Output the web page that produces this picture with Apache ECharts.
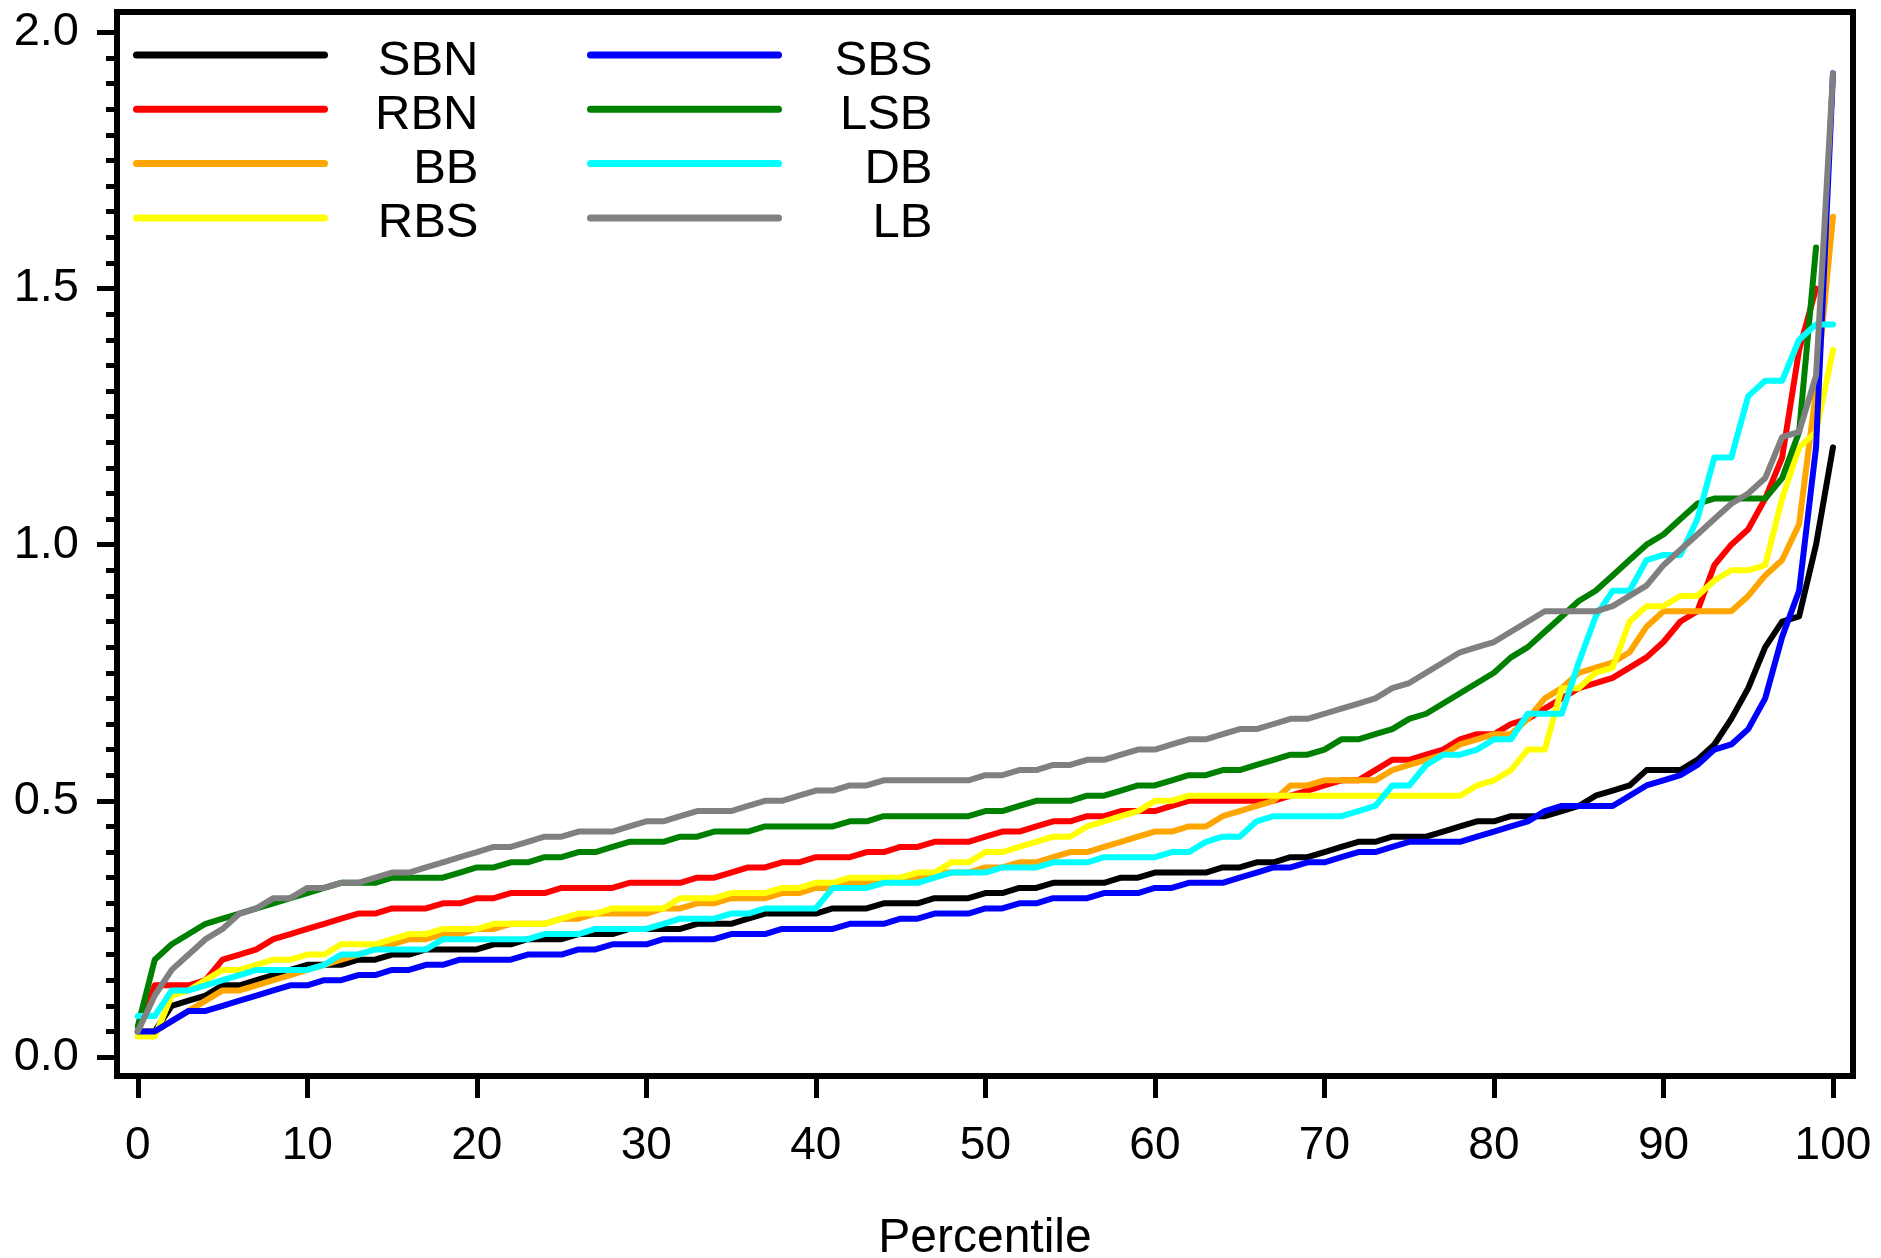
<!DOCTYPE html>
<html><head><meta charset="utf-8">
<script src="https://cdn.jsdelivr.net/npm/echarts@6/dist/echarts.min.js"></script>
<style>html,body{margin:0;padding:0;background:#fff}#c{width:1881px;height:1258px}</style>
</head><body><div id="c"></div>
<script>
const percentiles = [0,1,2,3,4,5,6,7,8,9,10,11,12,13,14,15,16,17,18,19,20,21,22,23,24,25,26,27,28,29,30,31,32,33,34,35,36,37,38,39,40,41,42,43,44,45,46,47,48,49,50,51,52,53,54,55,56,57,58,59,60,61,62,63,64,65,66,67,68,69,70,71,72,73,74,75,76,77,78,79,80,81,82,83,84,85,86,87,88,89,90,91,92,93,94,95,96,97,98,99,100];

const SBN = [0.05,0.05,0.10,0.11,0.12,0.14,0.14,0.15,0.16,0.17,0.18,0.18,0.18,0.19,0.19,0.20,0.20,0.21,0.21,0.21,0.21,0.22,0.22,0.23,0.23,0.23,0.24,0.24,
  0.24,0.25,0.25,0.25,0.25,0.26,0.26,0.26,0.27,0.28,0.28,0.28,0.28,0.29,0.29,0.29,0.30,0.30,0.30,0.31,0.31,0.31,0.32,0.32,0.33,0.33,0.34,0.34,0.34,
  0.34,0.35,0.35,0.36,0.36,0.36,0.36,0.37,0.37,0.38,0.38,0.39,0.39,0.40,0.41,0.42,0.42,0.43,0.43,0.43,0.44,0.45,0.46,0.46,0.47,0.47,0.47,
  0.48,0.49,0.51,0.52,0.53,0.56,0.56,0.56,0.58,0.61,0.66,0.72,0.80,0.85,0.86,1.00,1.19];
const RBN = [0.05,0.14,0.14,0.14,0.15,0.19,0.20,0.21,0.23,0.24,0.25,0.26,0.27,0.28,0.28,0.29,0.29,0.29,0.30,0.30,0.31,0.31,0.32,0.32,0.32,0.33,0.33,0.33,
  0.33,0.34,0.34,0.34,0.34,0.35,0.35,0.36,0.37,0.37,0.38,0.38,0.39,0.39,0.39,0.40,0.40,0.41,0.41,0.42,0.42,0.42,0.43,0.44,0.44,0.45,0.46,0.46,0.47,
  0.47,0.48,0.48,0.48,0.49,0.50,0.50,0.50,0.50,0.50,0.50,0.51,0.52,0.53,0.54,0.54,0.56,0.58,0.58,0.59,0.60,0.62,0.63,0.63,0.65,0.66,
  0.68,0.70,0.72,0.73,0.74,0.76,0.78,0.81,0.85,0.87,0.96,1.00,1.03,1.09,1.17,1.38,1.50,null];
const BB = [0.05,0.05,0.07,0.09,0.11,0.13,0.13,0.14,0.15,0.16,0.17,0.18,0.19,0.20,0.21,0.22,0.23,0.23,0.24,0.24,0.25,0.25,0.26,0.26,0.26,0.27,0.27,0.28,0.28,
  0.28,0.28,0.29,0.29,0.30,0.30,0.31,0.31,0.31,0.32,0.32,0.33,0.33,0.34,0.34,0.34,0.35,0.35,0.36,0.36,0.36,0.37,0.37,0.38,0.38,0.39,0.40,0.40,
  0.41,0.42,0.43,0.44,0.44,0.45,0.45,0.47,0.48,0.49,0.50,0.53,0.53,0.54,0.54,0.54,0.54,0.56,0.57,0.58,0.59,0.61,0.62,0.63,0.63,0.66,
  0.70,0.72,0.75,0.76,0.77,0.79,0.84,0.87,0.87,0.87,0.87,0.87,0.90,0.94,0.97,1.04,1.30,1.64];
const RBS = [0.04,0.04,0.12,0.13,0.15,0.17,0.17,0.18,0.19,0.19,0.20,0.20,0.22,0.22,0.22,0.23,0.24,0.24,0.25,0.25,0.25,0.26,0.26,0.26,0.26,0.27,0.28,0.28,0.29,
  0.29,0.29,0.29,0.31,0.31,0.31,0.32,0.32,0.32,0.33,0.33,0.34,0.34,0.35,0.35,0.35,0.35,0.36,0.36,0.38,0.38,0.40,0.40,0.41,0.42,0.43,0.43,0.45,
  0.46,0.47,0.48,0.50,0.50,0.51,0.51,0.51,0.51,0.51,0.51,0.51,0.51,0.51,0.51,0.51,0.51,0.51,0.51,0.51,0.51,0.51,
  0.53,0.54,0.56,0.60,0.60,0.72,0.72,0.75,0.76,0.85,0.88,0.88,0.90,0.90,0.93,0.95,0.95,0.96,1.09,1.19,1.22,1.38];
const SBS = [0.05,0.05,0.07,0.09,0.09,0.10,0.11,0.12,0.13,0.14,0.14,0.15,0.15,0.16,0.16,0.17,0.17,0.18,0.18,0.19,0.19,0.19,0.19,0.20,0.20,0.20,0.21,0.21,0.22,
  0.22,0.22,0.23,0.23,0.23,0.23,0.24,0.24,0.24,0.25,0.25,0.25,0.25,0.26,0.26,0.26,0.27,0.27,0.28,0.28,0.28,0.29,0.29,0.30,0.30,0.31,0.31,0.31,
  0.32,0.32,0.32,0.33,0.33,0.34,0.34,0.34,0.35,0.36,0.37,0.37,0.38,0.38,0.39,0.40,0.40,0.41,0.42,0.42,0.42,0.42,0.43,0.44,0.45,0.46,
  0.48,0.49,0.49,0.49,0.49,0.51,0.53,0.54,0.55,0.57,0.60,0.61,0.64,0.70,0.82,0.91,1.19,1.92];
const LSB = [0.06,0.19,0.22,0.24,0.26,0.27,0.28,0.29,0.30,0.31,0.32,0.33,0.34,0.34,0.34,0.35,0.35,0.35,0.35,0.36,0.37,0.37,0.38,0.38,0.39,0.39,0.40,0.40,0.41,
  0.42,0.42,0.42,0.43,0.43,0.44,0.44,0.44,0.45,0.45,0.45,0.45,0.45,0.46,0.46,0.47,0.47,0.47,0.47,0.47,0.47,0.48,0.48,0.49,0.50,0.50,0.50,0.51,
  0.51,0.52,0.53,0.53,0.54,0.55,0.55,0.56,0.56,0.57,0.58,0.59,0.59,0.60,0.62,0.62,0.63,0.64,0.66,0.67,0.69,0.71,0.73,0.75,0.78,0.80,
  0.83,0.86,0.89,0.91,0.94,0.97,1.00,1.02,1.05,1.08,1.09,1.09,1.09,1.09,1.13,1.22,1.58,null];
const DB = [0.08,0.08,0.13,0.13,0.14,0.15,0.16,0.17,0.17,0.17,0.17,0.18,0.20,0.20,0.21,0.21,0.21,0.21,0.23,0.23,0.23,0.23,0.23,0.23,0.24,0.24,0.24,0.25,0.25,
  0.25,0.25,0.26,0.27,0.27,0.27,0.28,0.28,0.29,0.29,0.29,0.29,0.33,0.33,0.33,0.34,0.34,0.34,0.35,0.36,0.36,0.36,0.37,0.37,0.37,0.38,0.38,0.38,
  0.39,0.39,0.39,0.39,0.40,0.40,0.42,0.43,0.43,0.46,0.47,0.47,0.47,0.47,0.47,0.48,0.49,0.53,0.53,0.57,0.59,0.59,0.60,0.62,0.62,0.67,
  0.67,0.67,0.77,0.86,0.91,0.91,0.97,0.98,0.98,1.05,1.17,1.17,1.29,1.32,1.32,1.40,1.43,1.43];
const LB = [0.05,0.12,0.17,0.20,0.23,0.25,0.28,0.29,0.31,0.31,0.33,0.33,0.34,0.34,0.35,0.36,0.36,0.37,0.38,0.39,0.40,0.41,0.41,0.42,0.43,0.43,0.44,0.44,0.44,
  0.45,0.46,0.46,0.47,0.48,0.48,0.48,0.49,0.50,0.50,0.51,0.52,0.52,0.53,0.53,0.54,0.54,0.54,0.54,0.54,0.54,0.55,0.55,0.56,0.56,0.57,0.57,0.58,
  0.58,0.59,0.60,0.60,0.61,0.62,0.62,0.63,0.64,0.64,0.65,0.66,0.66,0.67,0.68,0.69,0.70,0.72,0.73,0.75,0.77,0.79,0.80,0.81,0.83,0.85,
  0.87,0.87,0.87,0.87,0.88,0.90,0.92,0.96,0.99,1.02,1.05,1.08,1.10,1.13,1.21,1.22,1.33,1.92];

const seriesNames = ['SBN','RBN','BB','RBS','SBS','LSB','DB','LB'];
const seriesValues = [SBN,RBN,BB,RBS,SBS,LSB,DB,LB];
const seriesColors = ['#000000','#ff0000','#ffa500','#ffff00','#0000ff','#008000','#00ffff','#808080'];
const xTickLabels = [0,10,20,30,40,50,60,70,80,90,100];
const yTickLabels = [0,0.5,1,1.5,2];
const yMinorTicks = [0,0.05,0.1,0.15,0.2,0.25,0.3,0.35,0.4,0.45,0.5,0.55,0.6,0.65,0.7,0.75,0.8,0.85,0.9,0.95,1,1.05,1.1,1.15,1.2,1.25,1.3,1.35,1.4,1.45,1.5,1.55,1.6,1.65,1.7,1.75,1.8,1.85,1.9,1.95,2];

const FONT = "'Liberation Sans', Arial, sans-serif";
const chart = echarts.init(document.getElementById('c'), null, {renderer:'canvas'});

function legendCfg(names, left){
  return {
    orient:'vertical', left:left, top:24.5, padding:0,
    itemWidth:188, itemHeight:20, itemGap:-6.7,
    selectedMode:false,
    data:names,
    lineStyle:{width:7, cap:'round'},
    itemStyle:{opacity:0},
    formatter: n => '{t|' + n + '}',
    textStyle:{
      rich:{ t:{ width:149, align:'right', fontSize:49, fontFamily:FONT, color:'#000', lineHeight:40, padding:[12,0,0,0] } }
    }
  };
}

const option = {
  animation:false,
  backgroundColor:'#ffffff',
  textStyle:{fontFamily:FONT, color:'#000'},
  grid:{left:117, right:28, top:12, bottom:182, show:true, borderColor:'#000', borderWidth:6, backgroundColor:'transparent', containLabel:false, outerBoundsMode:'none'},
  legend:[legendCfg(seriesNames.slice(0,4),133), legendCfg(seriesNames.slice(4),587)],
  xAxis:{
    type:'value', min:-1.226, max:101.18,
    axisLine:{show:false, onZero:false},
    splitLine:{show:false},
    axisTick:{show:true, length:22, customValues:xTickLabels, lineStyle:{color:'#000', width:5}},
    axisLabel:{customValues:xTickLabels, fontSize:46, fontFamily:FONT, color:'#000', margin:47},
    name:'Percentile', nameLocation:'middle', nameGap:139,
    nameTextStyle:{fontSize:48, fontFamily:FONT, color:'#000'}
  },
  yAxis:[
    {
      type:'value', min:-0.0371, max:2.0398, position:'left',
      axisLine:{show:false, onZero:false},
      splitLine:{show:false},
      axisTick:{show:true, length:20, customValues:yTickLabels, lineStyle:{color:'#000', width:5}},
      axisLabel:{customValues:yTickLabels, formatter: v => v.toFixed(1), fontSize:47, fontFamily:FONT, color:'#000', margin:38}
    },
    {
      type:'value', min:-0.0371, max:2.0398, position:'left',
      axisLine:{show:false, onZero:false},
      splitLine:{show:false},
      axisTick:{show:true, length:11, customValues:yMinorTicks, lineStyle:{color:'#000', width:5}},
      axisLabel:{show:false}
    }
  ],
  series: seriesNames.map((n,i)=>({
    name:n, type:'line', yAxisIndex:0,
    data: percentiles.map((p,j)=>[p, seriesValues[i][j]]),
    symbol:'none', showSymbol:false,
    lineStyle:{color:seriesColors[i], width:6, cap:'round', join:'round'},
    itemStyle:{color:seriesColors[i]},
    emphasis:{disabled:true}
  }))
};
chart.setOption(option);
</script>
</body></html>
